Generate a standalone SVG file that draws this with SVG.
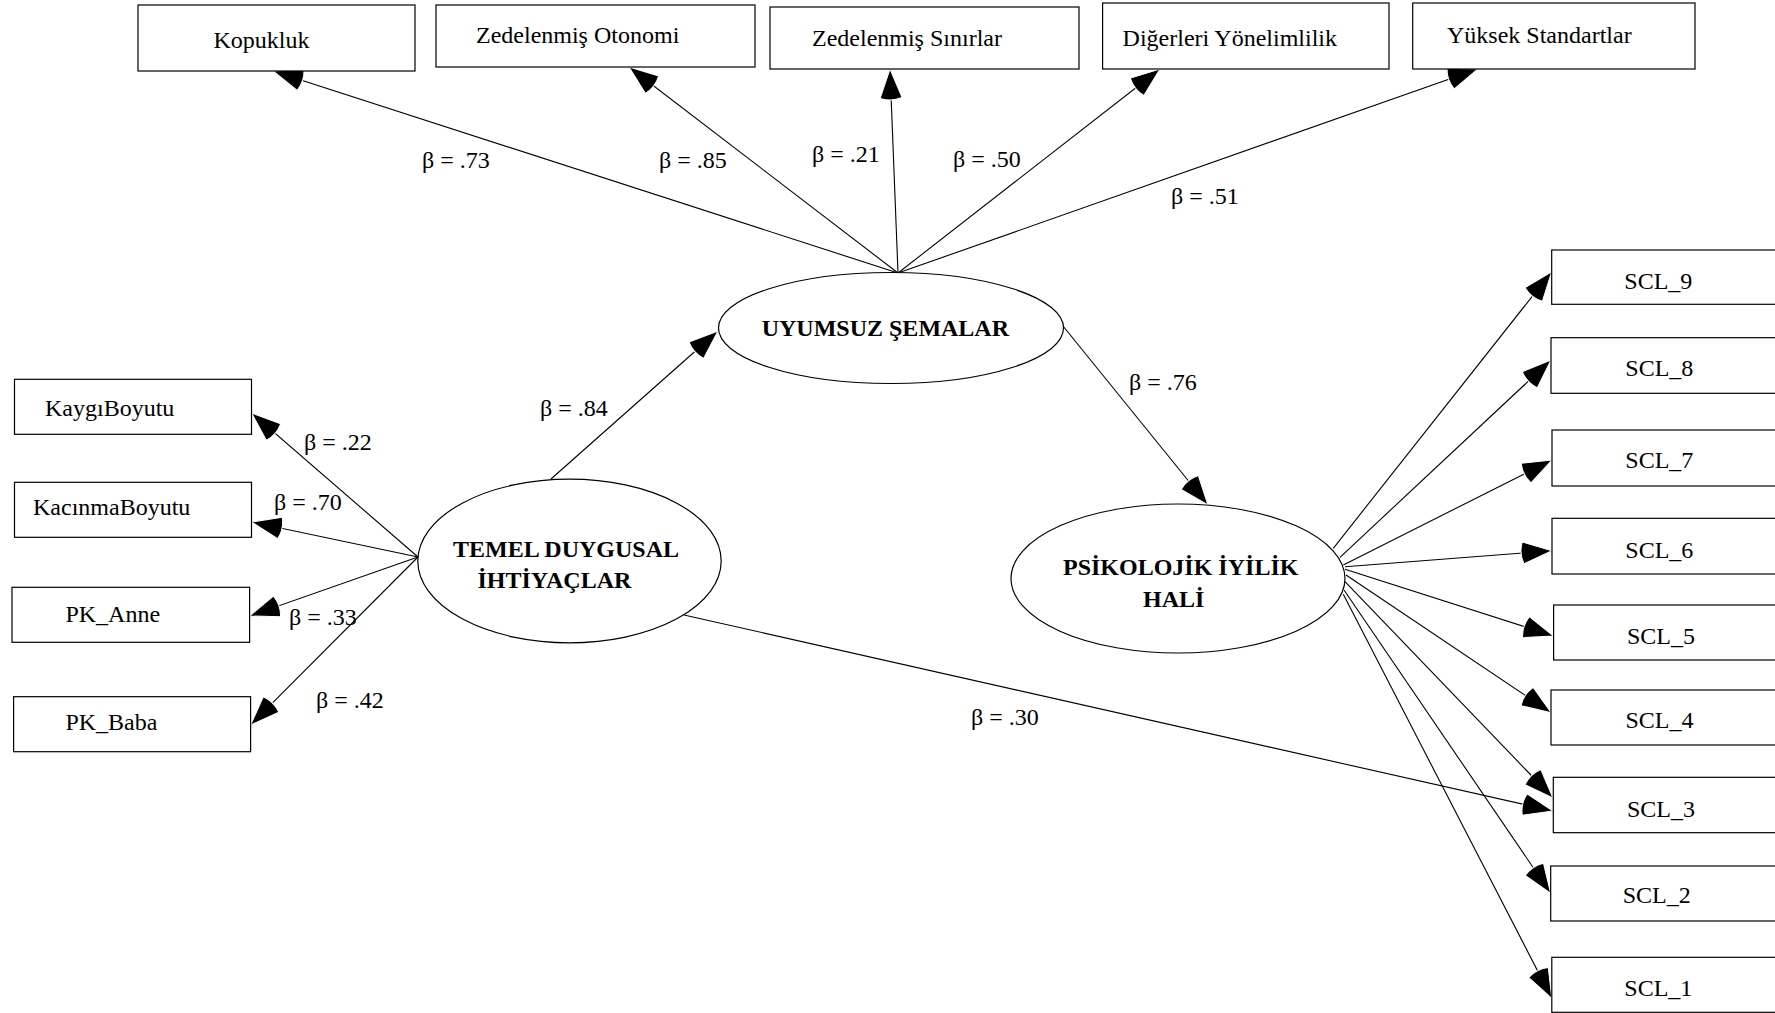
<svg xmlns="http://www.w3.org/2000/svg" width="1775" height="1013" viewBox="0 0 1775 1013">
<style>
text{font-family:"Liberation Serif","Times New Roman",serif;font-size:24px;fill:#000}
.b{font-weight:bold}
.box{fill:#fff;stroke:#000;stroke-width:1.2}
.ell{fill:#fff;stroke:#000;stroke-width:1.2}
.c line{stroke:#000;stroke-width:1.1;fill:none;marker-end:url(#ah)}
</style>
<defs>
<marker id="ah" markerUnits="userSpaceOnUse" markerWidth="34" markerHeight="26" refX="30" refY="11" orient="auto" overflow="visible">
<path d="M30,11 L1,0 A31,31 0 0 0 1,22 Z" fill="#000" stroke="#fff" stroke-width="1"/>
</marker>
</defs>
<rect width="1775" height="1013" fill="#fff"/>
<g id="connectors" class="c">
<line x1="898" y1="273" x2="273" y2="71"/>
<line x1="898" y1="273" x2="629" y2="67"/>
<line x1="898" y1="273" x2="890" y2="69"/>
<line x1="898" y1="273" x2="1160" y2="69"/>
<line x1="898" y1="273" x2="1478" y2="69"/>
<line x1="551" y1="479" x2="718" y2="331"/>
<line x1="1063" y1="326" x2="1208" y2="505"/>
<line x1="684" y1="615" x2="1553" y2="811"/>
<line x1="418" y1="557" x2="251.6" y2="413"/>
<line x1="418" y1="557" x2="251.6" y2="522"/>
<line x1="418" y1="557" x2="249.6" y2="616"/>
<line x1="418" y1="557" x2="250.6" y2="725"/>
<line x1="1333.3" y1="548.3" x2="1551.7" y2="271.7"/>
<line x1="1340" y1="557.3" x2="1551" y2="360"/>
<line x1="1343.3" y1="565" x2="1552" y2="460"/>
<line x1="1345" y1="566.7" x2="1552" y2="550.7"/>
<line x1="1345" y1="569.3" x2="1553.6" y2="636"/>
<line x1="1346" y1="575" x2="1551.2" y2="712.7"/>
<line x1="1345" y1="581.7" x2="1553" y2="798"/>
<line x1="1344" y1="590" x2="1550.7" y2="893.3"/>
<line x1="1343.3" y1="594.3" x2="1551.8" y2="998.3"/>
</g>
<g id="labels">
<text x="422" y="168">β = .73</text>
<text x="659" y="168">β = .85</text>
<text x="812" y="162">β = .21</text>
<text x="953" y="167">β = .50</text>
<text x="1171" y="204">β = .51</text>
<text x="540" y="416">β = .84</text>
<text x="304" y="450">β = .22</text>
<text x="274" y="510">β = .70</text>
<text x="289" y="625">β = .33</text>
<text x="316" y="708">β = .42</text>
<text x="1129" y="390">β = .76</text>
<text x="971" y="725">β = .30</text>
</g>
<g id="n-kopukluk"><rect class="box" x="138" y="5" width="277" height="66"/><text x="213.5" y="48">Kopukluk</text></g>
<g id="n-otonomi"><rect class="box" x="436" y="5" width="319" height="62"/><text x="476" y="43">Zedelenmiş Otonomi</text></g>
<g id="n-sinirlar"><rect class="box" x="770" y="7" width="309" height="62"/><text x="812" y="46">Zedelenmiş Sınırlar</text></g>
<g id="n-digerleri"><rect class="box" x="1102.6" y="3" width="286.4" height="66"/><text x="1122.6" y="45.7">Diğerleri Yönelimlilik</text></g>
<g id="n-yuksek"><rect class="box" x="1412.7" y="3" width="282.3" height="66"/><text x="1447" y="43">Yüksek Standartlar</text></g>
<g id="n-uyumsuz"><ellipse class="ell" cx="891" cy="328" rx="172.5" ry="55.5"/><text class="b" x="761.7" y="336">UYUMSUZ ŞEMALAR</text></g>
<g id="n-temel"><ellipse class="ell" cx="569.5" cy="561" rx="151.7" ry="81.8"/><text class="b" x="453" y="557">TEMEL DUYGUSAL</text><text class="b" x="477.5" y="588">İHTİYAÇLAR</text></g>
<g id="n-psikolojik"><ellipse class="ell" cx="1178" cy="578.5" rx="167" ry="74.5"/><text class="b" x="1063" y="575">PSİKOLOJİK İYİLİK</text><text class="b" x="1143" y="606.7">HALİ</text></g>
<g id="n-kaygi"><rect class="box" x="14.5" y="379.3" width="237" height="55"/><text x="45" y="416">KaygıBoyutu</text></g>
<g id="n-kacinma"><rect class="box" x="14.5" y="482.3" width="237" height="55"/><text x="33" y="515">KacınmaBoyutu</text></g>
<g id="n-pkanne"><rect class="box" x="12" y="587.3" width="237.6" height="55"/><text x="65.4" y="621.7">PK_Anne</text></g>
<g id="n-pkbaba"><rect class="box" x="13.6" y="696.7" width="237" height="55"/><text x="65.4" y="730">PK_Baba</text></g>
<g id="n-scl9"><rect class="box" x="1551.7" y="250" width="240" height="54.3"/><text x="1624.3" y="289">SCL_9</text></g>
<g id="n-scl8"><rect class="box" x="1551" y="337.7" width="240" height="55.6"/><text x="1625.3" y="376">SCL_8</text></g>
<g id="n-scl7"><rect class="box" x="1552" y="430" width="240" height="56"/><text x="1625.3" y="468.3">SCL_7</text></g>
<g id="n-scl6"><rect class="box" x="1552" y="518.3" width="240" height="55.7"/><text x="1625.3" y="558.3">SCL_6</text></g>
<g id="n-scl5"><rect class="box" x="1553.6" y="605" width="240" height="55"/><text x="1627" y="644">SCL_5</text></g>
<g id="n-scl4"><rect class="box" x="1551" y="690" width="240" height="55"/><text x="1625.4" y="728.3">SCL_4</text></g>
<g id="n-scl3"><rect class="box" x="1553.3" y="777.3" width="240" height="55.4"/><text x="1627" y="816.7">SCL_3</text></g>
<g id="n-scl2"><rect class="box" x="1550.7" y="866" width="240" height="55"/><text x="1622.7" y="903.3">SCL_2</text></g>
<g id="n-scl1"><rect class="box" x="1551.8" y="957.3" width="240" height="55"/><text x="1624.3" y="996">SCL_1</text></g>
</svg>
